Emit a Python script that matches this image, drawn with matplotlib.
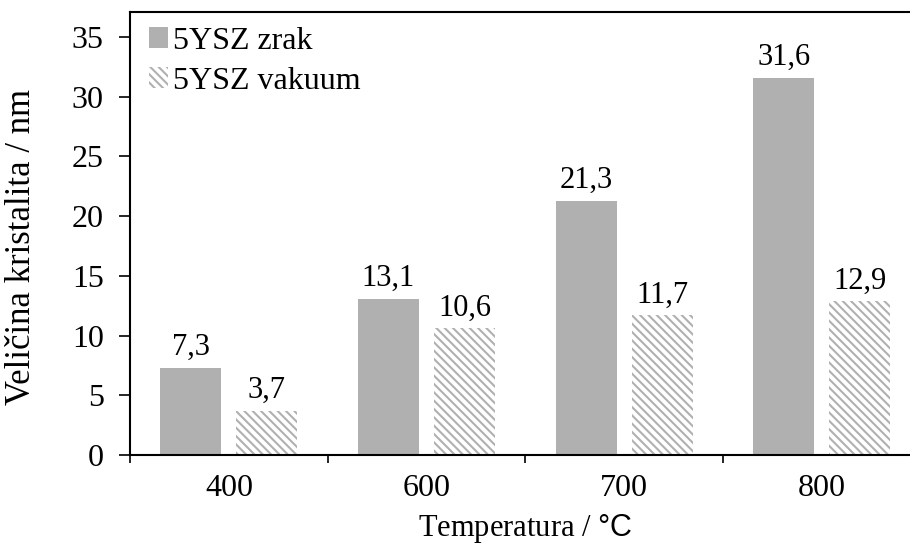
import matplotlib.pyplot as plt
import numpy as np

plt.rcParams['font.family'] = ['Liberation Serif', 'DejaVu Serif']
plt.rcParams['mathtext.fontset'] = 'custom'
plt.rcParams['mathtext.sf'] = 'Liberation Sans'
plt.rcParams['hatch.linewidth'] = 1.5

temperatures = ['400', '600', '700', '800']
zrak = [7.3, 13.1, 21.3, 31.6]
vakuum = [3.7, 10.6, 11.7, 12.9]
yticks = [0, 5, 10, 15, 20, 25, 30, 35]


def fmt(v):
    return f"{v:.1f}".replace('.', ',')


def main():
    fig = plt.figure(figsize=(9.1, 5.49), dpi=100)
    ax = fig.add_axes([0.1429, 0.1712, 0.869, 0.807])

    x = np.arange(len(temperatures))
    w = 0.308
    b1 = ax.bar(x - 0.193, zrak, w, color='#b0b0b0', label='5YSZ zrak')
    b2 = ax.bar(x + 0.192, vakuum, w, color='white', edgecolor='#b0b0b0',
                linewidth=0, hatch='\\\\\\\\', label='5YSZ vakuum')

    # value labels above each bar
    for bars, vals in ((b1, zrak), (b2, vakuum)):
        for rect, v in zip(bars, vals):
            ax.annotate(fmt(v), (rect.get_x() + rect.get_width() / 2, v),
                        xytext=(0, 4), textcoords='offset points',
                        ha='center', va='bottom', fontsize=22)

    ax.set_xlim(-0.5, len(temperatures) - 0.5)
    ax.set_ylim(0, 37.1)
    ax.set_yticks(yticks)
    ax.set_xticks(x)
    ax.set_xticklabels(temperatures)
    ax.set_xticks(np.arange(len(temperatures) + 1) - 0.5, minor=True)
    ax.tick_params(axis='x', which='major', length=0, pad=14, labelsize=23)
    ax.tick_params(axis='x', which='minor', length=6, width=1.2, direction='out')
    ax.tick_params(axis='y', length=8, width=1.2, direction='out', labelsize=23, pad=11)
    for s in ('left', 'bottom', 'top'):
        ax.spines[s].set_linewidth(1.5)
    ax.spines['right'].set_visible(False)

    ax.set_xlabel(r'Temperatura / $\mathsf{°C}$', fontsize=22, labelpad=6)
    ax.set_ylabel('Veličina kristalita / nm', fontsize=25)
    ax.yaxis.set_label_coords(-0.117, 0.47)

    ax.legend(loc='upper left', bbox_to_anchor=(0.0, 1.01), frameon=False,
              fontsize=23, handlelength=0.58, handleheight=0.6,
              handletextpad=0.15, labelspacing=0.35, borderaxespad=0.2)

    fig.savefig('out.png', dpi=100)


if __name__ == "__main__":
    main()
